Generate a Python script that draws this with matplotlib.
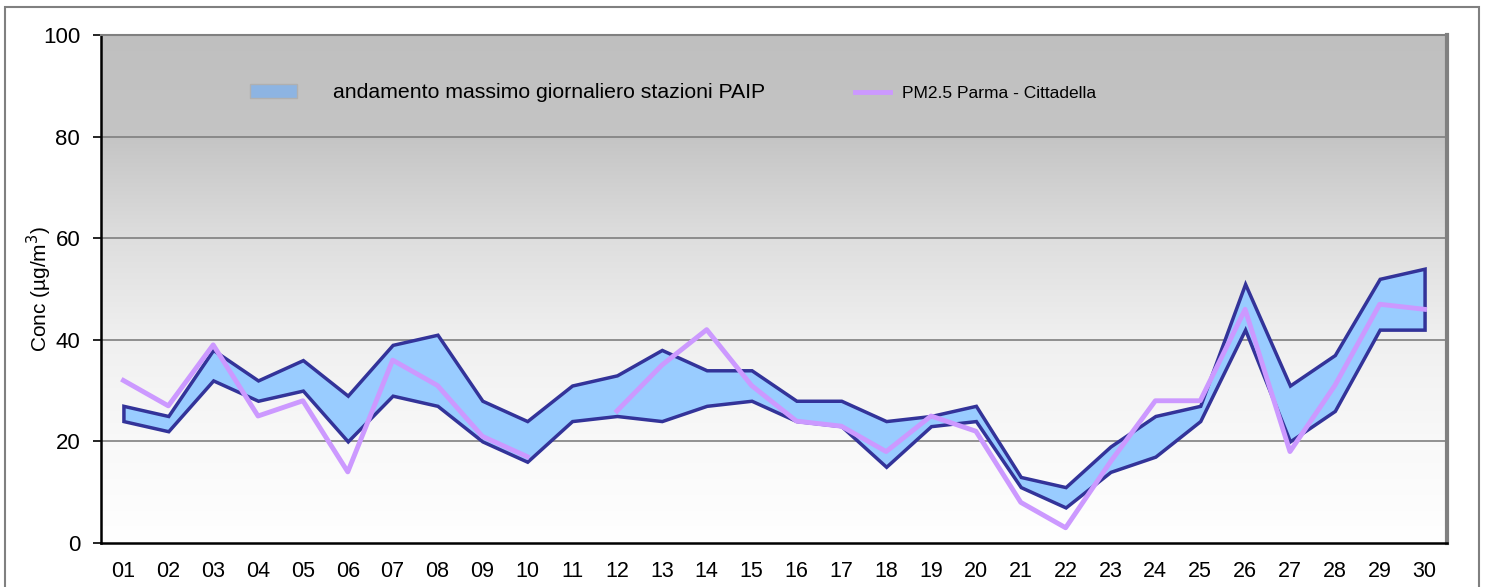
import numpy as np
import matplotlib.pyplot as plt
from matplotlib.patches import Rectangle
from matplotlib.lines import Line2D

plt.rcParams['font.family'] = ['Liberation Sans', 'DejaVu Sans']

# Daily values (µg/m3)
days = ['01', '02', '03', '04', '05', '06', '07', '08', '09', '10',
        '11', '12', '13', '14', '15', '16', '17', '18', '19', '20',
        '21', '22', '23', '24', '25', '26', '27', '28', '29', '30']
paip_max = [27, 25, 38, 32, 36, 29, 39, 41, 28, 24,
            31, 33, 38, 34, 34, 28, 28, 24, 25, 27,
            13, 11, 19, 25, 27, 51, 31, 37, 52, 54]
paip_min = [24, 22, 32, 28, 30, 20, 29, 27, 20, 16,
            24, 25, 24, 27, 28, 24, 23, 15, 23, 24,
            11, 7, 14, 17, 24, 42, 20, 26, 42, 42]
pm25_cittadella = [32, 27, 39, 25, 28, 14, 36, 31, 21, 17,
                   np.nan, 26, 35, 42, 31, 24, 23, 18, 25, 22,
                   8, 3, 16, 28, 28, 46, 18, 31, 47, 46]

W, H = 1486, 587
fig = plt.figure(figsize=(W / 100, H / 100), dpi=100)
ax = fig.add_axes([101 / W, 1 - 543 / H, (1447 - 101) / W, (543 - 35) / H])

x = np.arange(1, len(days) + 1)

# background gradient (grey on top, white at bottom)
vals = np.linspace(100, 0, 400)
grey = np.interp(vals, [0, 20, 40, 60, 80, 100], [1.0, 0.975, 0.94, 0.87, 0.77, 0.75])
ax.imshow(np.repeat(grey[:, None], 3, axis=1)[:, :, None].repeat(3, axis=2),
          extent=[0.5, 30.5, 0, 100], aspect='auto', zorder=0,
          interpolation='bilinear')

for g in [20, 40, 60, 80]:
    ax.axhline(g, color='#7f7f7f', lw=1.2, zorder=1)

band = ax.fill_between(x, paip_min, paip_max, facecolor='#99ccff',
                       edgecolor='#333399', linewidth=2.5, zorder=2,
                       joinstyle='miter')
pm_line, = ax.plot(x, pm25_cittadella, color='#cc99ff', lw=3.5, zorder=3)

ax.set_xlim(0.5, 30.5)
ax.set_ylim(0, 100)
ax.set_xticks(x)
ax.set_xticklabels(days, fontsize=15.5)
ax.tick_params(axis='x', length=0, pad=13)
ax.set_yticks([0, 20, 40, 60, 80, 100])
ax.tick_params(axis='y', labelsize=16, length=6, width=1.2, pad=9)
ax.set_ylabel('Conc (µg/m$^3$)', fontsize=15)
ax.yaxis.set_label_coords(-0.035, 0.5)

for s in ['left', 'bottom']:
    ax.spines[s].set_color('black')
    ax.spines[s].set_linewidth(1.8)
ax.spines['top'].set_color('#808080')
ax.spines['top'].set_linewidth(1.5)
ax.spines['right'].set_color('#808080')
ax.spines['right'].set_linewidth(3)

# legends
patch_handle = Rectangle((0, 0), 1, 1, facecolor='#8db4e2', edgecolor='#b0b0b0', lw=1)
leg1 = ax.legend([patch_handle], ['andamento massimo giornaliero stazioni PAIP'],
                 loc='center left', bbox_to_anchor=(250 / W, 1 - 93 / H),
                 bbox_transform=fig.transFigure, frameon=False, fontsize=15.3,
                 handlelength=2.2, handleheight=0.6, handletextpad=1.7,
                 borderpad=0, borderaxespad=0)
ax.add_artist(leg1)
line_handle = Line2D([], [], color='#cc99ff', lw=3.5)
ax.legend([line_handle], ['PM2.5 Parma - Cittadella'],
          loc='center left', bbox_to_anchor=(855 / W, 1 - 93 / H),
          bbox_transform=fig.transFigure, frameon=False, fontsize=12.5,
          handlelength=2.0, handletextpad=0.7, borderpad=0, borderaxespad=0)

# outer frame
fig.add_artist(Rectangle((5 / W, -0.05), (1479 - 5) / W, 1.05 - 7 / H,
                         transform=fig.transFigure, fill=False,
                         edgecolor='#808080', lw=1.5))

fig.savefig('out.png', dpi=100)
